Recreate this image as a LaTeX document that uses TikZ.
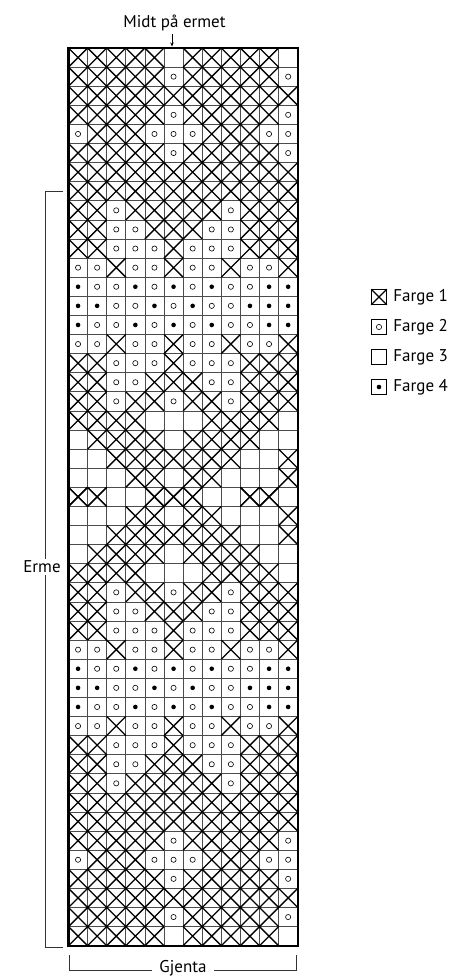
\documentclass[tikz,border=0pt]{standalone}
\usepackage{fontspec}
\setmainfont{PT Sans}
\usetikzlibrary{positioning, arrows.meta}

\newcommand{\cellsz}{19.1}
\newcommand{\gx}{68.5}
\newcommand{\gy}{48}
\newcommand{\drawcellX}{\draw[cross] (0,0) -- (\cellsz,\cellsz) (0,\cellsz) -- (\cellsz,0);}
\newcommand{\drawcello}{\draw[ring] ({\cellsz/2},{\cellsz/2}) circle[radius=2.6pt];}
\newcommand{\drawcelld}{\fill ({\cellsz/2},{\cellsz/2}) circle[radius=2.3pt];}
\newcommand{\drawcellb}{}

\begin{document}
\begin{tikzpicture}[x=1pt, y=-1pt, font=\fontsize{17}{19}\selectfont, >={Stealth[length=4pt, width=3.5pt]},
  gridline/.style={line width=0.7pt, draw=black!70},
  border/.style={line width=2.4pt, draw=black},
  cross/.style={line width=1.3pt, draw=black},
  ring/.style={line width=0.6pt, draw=black},
  bracket/.style={line width=0.7pt, draw=black!80},
  legbox/.style={draw, line width=0.7pt, minimum size=15pt, inner sep=0pt},
  lbl/.style={fill=white, inner sep=2pt},
  pics/cell/.style={code={\csname drawcell#1\endcsname}}]
  \useasboundingbox (0,0) rectangle (458,976);

  % grid lines
  \foreach \k in {1,...,11}
    \draw[gridline] ({\gx+\k*\cellsz},\gy) -- ++(0,{47*\cellsz});
  \foreach \r in {1,...,46}
    \draw[gridline] (\gx,{\gy+\r*\cellsz}) -- ++({12*\cellsz},0);

  % rows 1-24, mirrored below row 24
  \foreach \rowlist [count=\r] in {
    {X,X,X,X,X,b,X,X,X,X,X,b},
    {X,X,X,X,X,o,X,X,X,X,X,o},
    {X,X,X,X,X,X,X,X,X,X,X,X},
    {X,X,X,X,X,o,X,X,X,X,X,o},
    {o,X,X,X,o,o,o,X,X,X,o,o},
    {X,X,X,X,X,o,X,X,X,X,X,o},
    {X,X,X,X,X,X,X,X,X,X,X,X},
    {X,X,X,X,X,X,X,X,X,X,X,X},
    {X,X,o,X,X,X,X,X,o,X,X,X},
    {X,X,o,o,X,X,X,o,o,X,X,X},
    {X,X,o,o,o,X,o,o,o,X,X,X},
    {o,o,X,o,o,X,o,o,X,o,o,X},
    {d,o,o,d,o,d,o,d,o,o,d,d},
    {d,d,o,o,d,o,d,o,o,d,d,d},
    {d,o,o,d,o,d,o,d,o,o,d,d},
    {o,o,X,o,o,X,o,o,X,o,o,X},
    {X,X,o,o,o,X,o,o,o,X,X,X},
    {X,X,o,o,X,X,X,o,o,X,X,X},
    {X,X,o,X,X,o,X,X,o,X,X,X},
    {X,X,X,X,b,b,b,X,X,X,X,b},
    {b,X,X,X,X,b,X,X,X,X,b,b},
    {b,b,X,X,X,X,X,X,X,b,b,X},
    {b,b,b,X,X,b,X,X,b,b,b,X},
    {X,X,b,b,X,X,X,b,b,X,X,b}}{
    \foreach \s [count=\k] in \rowlist {
      \pic at ({\gx+(\k-1)*\cellsz},{\gy+(\r-1)*\cellsz}) {cell=\s};
      \pic at ({\gx+(\k-1)*\cellsz},{\gy+(47-\r)*\cellsz}) {cell=\s};
    }
  }
  \draw[border] (\gx,\gy) rectangle ++({12*\cellsz},{47*\cellsz});

  % labels round the chart
  \node[anchor=base] (mid) at (174.5,27.3) {Midt på ermet};
  \coordinate (midbot) at (172,34);
  \coordinate (midtop) at (172,46.5);
  \draw[->, line width=0.7pt] (midbot) -- (midtop);

  \coordinate (ermetop) at (45,191.5);
  \coordinate (ermebot) at (45,947.5);
  \draw[bracket] (63,191.5) -- (ermetop) -- (ermebot) -- (63,947.5);
  \node[lbl] (erme) at (42,567) {Erme};

  \coordinate (gjl) at (69.5,955);
  \coordinate (gjr) at (296,955);
  \draw[bracket] (gjl) -- ++(0,15) -| (gjr);
  \node[lbl, anchor=base, inner ysep=1pt, inner xsep=7pt] (gjenta) at (183,972) {Gjenta};

  % legend
  \node[legbox] (f1) at (379,297) {};
  \node[legbox] (f2) at (379,327) {};
  \node[legbox] (f3) at (379,357) {};
  \node[legbox] (f4) at (379,387) {};
  \draw[line width=1.1pt] (f1.north west) -- (f1.south east) (f1.south west) -- (f1.north east);
  \draw[ring] (f2.center) circle[radius=2.6pt];
  \fill (f4.center) circle[radius=2.3pt];
  \node[right=3pt of f1] (t1) {Farge 1};
  \node[right=3pt of f2] (t2) {Farge 2};
  \node[right=3pt of f3] (t3) {Farge 3};
  \node[right=3pt of f4] (t4) {Farge 4};
\end{tikzpicture}
\end{document}
